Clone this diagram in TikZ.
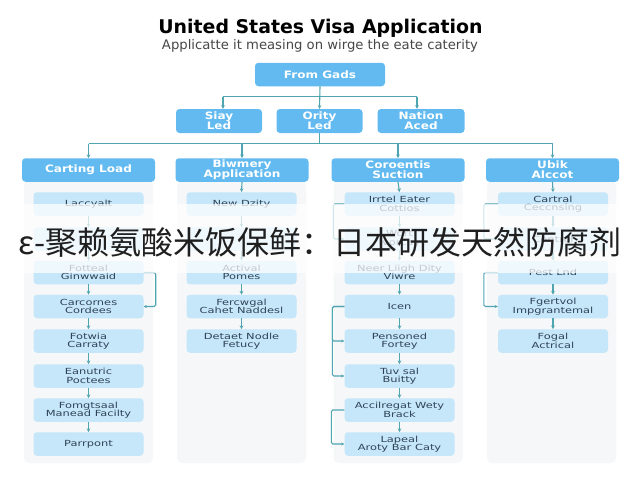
\documentclass[tikz,border=0pt]{standalone}
\usepackage{fontspec}
\setmainfont{DejaVu Sans}
\newfontfamily\cjkfont{Noto Sans CJK SC}
\newfontfamily\widefont[FakeStretch=1.36]{DejaVu Sans}
\newfontfamily\headfont[FakeStretch=1.18]{DejaVu Sans}
\usetikzlibrary{arrows.meta}
\definecolor{hdrblue}{HTML}{62BAF0}
\definecolor{kidblue}{HTML}{C6E6FA}
\definecolor{panelgrey}{HTML}{F5F7F9}
\definecolor{linkteal}{HTML}{4FA5B0}
\definecolor{kidtext}{HTML}{2F4356}
\tikzset{
  hdr/.style={fill=hdrblue,rounded corners=3.5pt,inner sep=0pt,text=white,align=center,
    font=\fontsize{10.2}{10}\headfont\bfseries\selectfont,minimum height=23.5pt},
  sub/.style={hdr,minimum width=86pt,minimum height=24pt,font=\fontsize{10.2}{10}\headfont\bfseries\selectfont},
  colhdr/.style={hdr,minimum width=133pt},
  kid/.style={fill=kidblue,rounded corners=3.5pt,inner sep=0pt,text=kidtext,align=center,
    font=\fontsize{8.4}{8.6}\widefont\selectfont,minimum height=23.5pt},
  kidA/.style={kid,minimum width=110pt},
  panel/.style={fill=panelgrey,rounded corners=5pt,inner sep=0pt,minimum width=129pt},
  conn/.style={draw=linkteal,line width=1.1pt,-{Stealth[length=3.6pt,width=3.6pt]}},
  plain/.style={draw=linkteal,line width=1.1pt},
  side/.style={draw=linkteal,line width=1.1pt,rounded corners=1.5pt,-{Stealth[length=3pt,width=3pt]}}
}
\begin{document}
\begin{tikzpicture}[x=1pt,y=-1pt]
\useasboundingbox (0,0) rectangle (640,480);
\fill[white] (0,0) rectangle (640,480);
% titles
\node[font=\fontsize{18.9}{20}\selectfont\bfseries,text=black,inner sep=0pt] (title) at (320.5,28.5) {United States Visa Application};
\node[font=\fontsize{13.2}{14}\selectfont,text=black!72,inner sep=0pt] (subtitle) at (320,45.5) {Applicatte it measing on wirge the eate caterity};
% panels
\node[panel,minimum height=282pt] (p1) at (88.5,322) {};
\node[panel,minimum height=282pt] (p2) at (241.5,322) {};
\node[panel,minimum height=282pt] (p3) at (398,322) {};
\node[panel,minimum height=282pt] (p4) at (551.5,322) {};
% upper levels
\node[hdr,minimum width=130pt] (top) at (320,74.5) {From Gads};
\node[sub] (s1) at (219,121) {Siay\\Led};
\node[sub] (s2) at (319.5,121) {Ority\\Led};
\node[sub,minimum width=87pt] (s3) at (421,121) {Nation\\Aced};
\node[colhdr] (h1) at (88.5,170) {Carting Load};
\node[colhdr] (h2) at (242,170) {Biwmery\\Application};
\node[colhdr] (h3) at (398,170) {Coroentis\\Suction};
\node[colhdr] (h4) at (552.5,170) {Ubik\\Alccot};
% column 1
\node[kidA] (a1) at (88.5,204) {Laccyalt};
\node[kidA] (a2) at (88.5,239) {};
\node[kidA] (a3) at (88.5,272.5) {Fotteal\\Ginwwaid};
\node[kidA] (a4) at (88.5,306.5) {Carcornes\\Cordees};
\node[kidA] (a5) at (88.5,341) {Fotwia\\Carraty};
\node[kidA] (a6) at (88.5,376) {Eanutric\\Poctees};
\node[kidA] (a7) at (88.5,410) {Fomgtsaal\\Manead Facilty};
\node[kidA] (a8) at (88.5,444) {Parrpont};
% column 2
\node[kidA] (b1) at (241.5,204) {New Dzity};
\node[kidA] (b2) at (241.5,239) {};
\node[kidA] (b3) at (241.5,272.5) {Actival\\Pomes};
\node[kidA] (b4) at (241.5,306.5) {Fercwgal\\Cahet Naddesl};
\node[kidA] (b5) at (241.5,341) {Detaet Nodle\\Fetucy};
% column 3
\node[kidA] (c1) at (399.5,204) {Irrtel Eater\\Cottios};
\node[kidA] (c2) at (399.5,239) {Wort\\Ivorcay};
\node[kidA] (c3) at (399.5,272.5) {Neer Liigh Dity\\Viwre};
\node[kidA] (c4) at (399.5,306.5) {Icen};
\node[kidA] (c5) at (399.5,341) {Pensoned\\Fortey};
\node[kidA] (c6) at (399.5,376) {Tuv sal\\Buitty};
\node[kidA] (c7) at (399.5,410) {Accilregat Wety\\Brack};
\node[kidA] (c8) at (399.5,444) {Lapeal\\Aroty Bar Caty};
% column 4
\node[kidA] (d1) at (553,204) {Cartral\\Ceccnsing};
\node[kidA] (d2) at (553,239) {Control};
\node[kidA] (d3) at (553,272.5) {Pest Lnd};
\node[kidA] (d4) at (553,306.5) {Fgertvol\\Impgrantemal};
\node[kidA] (d5) at (553,341) {Fogal\\Actrical};
% top bus
\coordinate (t1) at (223,96.7);
\coordinate (t3) at (417,96.7);
\draw[plain] (t1) -- (t3);
\draw[conn] (top.south) -- (s2.north);
\draw[conn] (t1) -- (t1 |- s1.north);
\draw[conn] (t3) -- (t3 |- s3.north);
% second bus
\coordinate (u1) at (h1.north |- 0,143.5);
\coordinate (u4) at (h4.north |- 0,143.5);
\coordinate (u0) at (s2.south |- 0,143.5);
\draw[plain] (s2.south) -- (u0);
\draw[plain] (u1) -- (u4);
\draw[conn] (u1) -- (h1.north);
\draw[conn] (h2.north |- u1) -- (h2.north);
\draw[conn] (h3.north |- u1) -- (h3.north);
\draw[conn] (u4) -- (h4.north);
% vertical links
\draw[conn] (h2.south) -- (b1.north);
\draw[conn] (h3.south) -- (c1.north);
\draw[conn] (h4.south) -- (d1.north);
\foreach \p/\q in {a1/a2,a2/a3,a3/a4,a4/a5,a5/a6,a6/a7,a7/a8,
                   b1/b2,b2/b3,b3/b4,b4/b5,
                   c1/c2,c2/c3,c3/c4,c4/c5,c5/c6,c6/c7,c7/c8,
                   d1/d2,d2/d3,d3/d4,d4/d5}
  \draw[conn] (\p.south) -- (\q.north);
% side brackets
\draw[side] (a3.east) -- ++(12,0) |- (a4.east);
\draw[side] (c1.west) -- ++(-11,0) |- (c2.west);
\draw[side] (c4.west) -- ++(-12,0) |- (c5.west);
\draw[side] (c4.west) -- ++(-12,0) |- (c6.west);
\draw[side] (c7.west) -- ++(-13,0) |- (c8.west);
\draw[side] (d1.west) -- ++(-14,0) |- (d2.west);
\draw[side] (d3.west) -- ++(-14,0) |- (d4.west);
% translucent band and headline
\fill[white,opacity=0.72] (0,204) rectangle (640,273);
\node[font=\fontsize{32}{35}\selectfont\cjkfont,text=black!88,inner sep=0pt] (headline) at (320,242) {ε-聚赖氨酸米饭保鲜：日本研发天然防腐剂};
\end{tikzpicture}
\end{document}
